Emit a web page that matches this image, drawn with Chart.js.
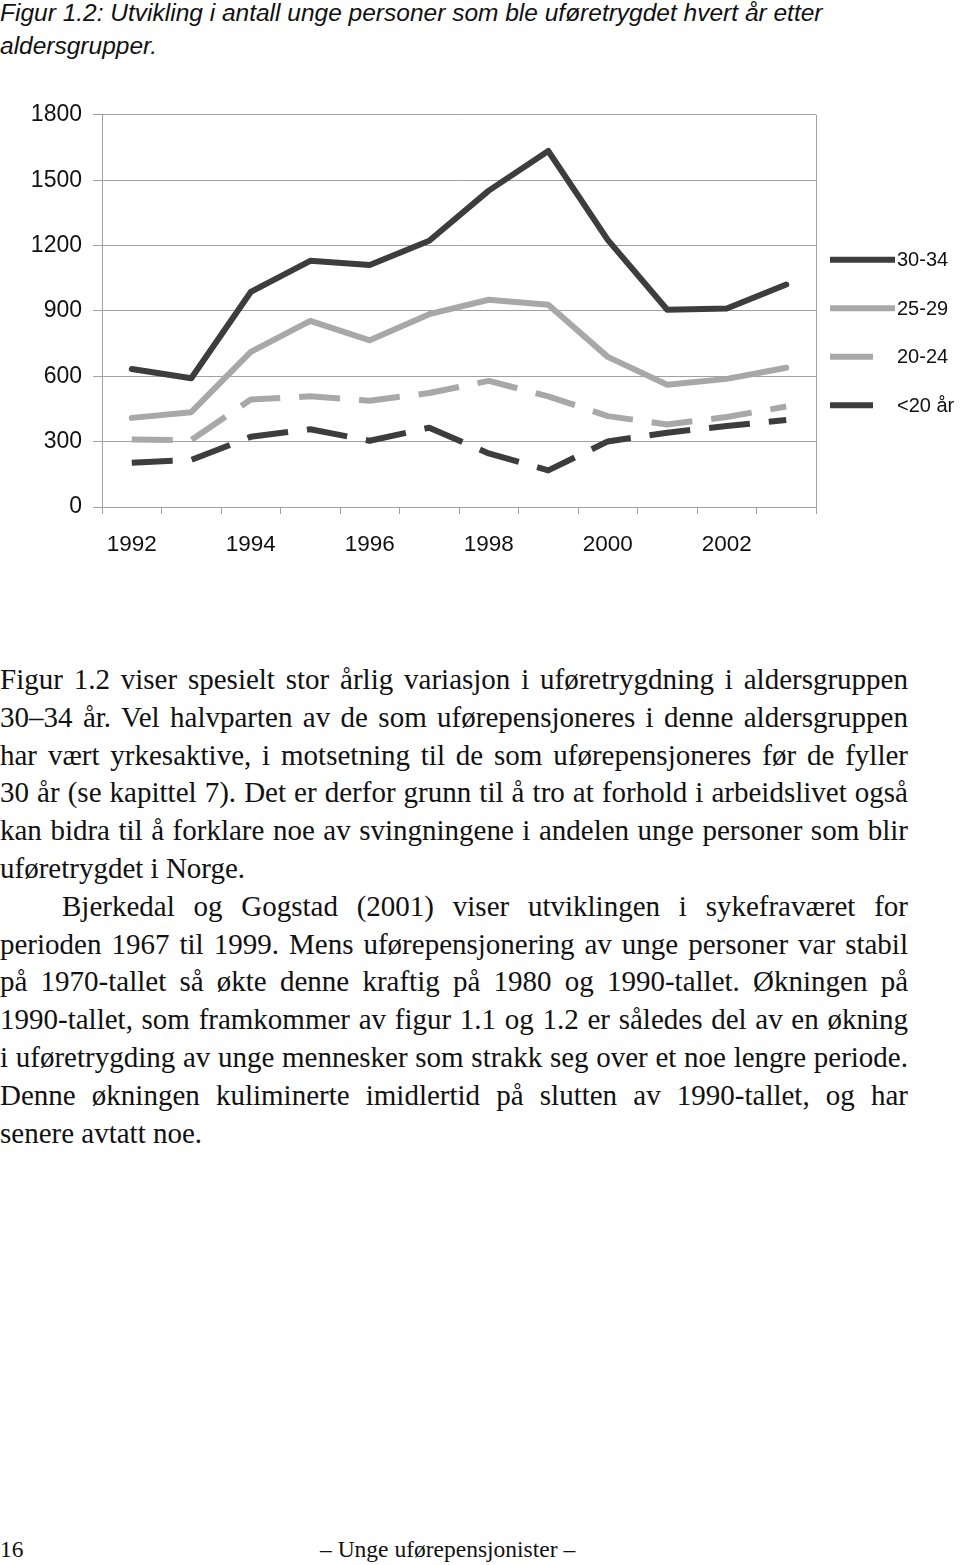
<!DOCTYPE html>
<html>
<head>
<meta charset="utf-8">
<script src="https://cdn.jsdelivr.net/npm/chart.js@4"></script>
<style>
  body { margin: 0; width: 960px; height: 1565px; background: #fff; position: relative; overflow: hidden; }
  #title { position: absolute; left: 0; top: -4px; font-family: "Liberation Sans", Arial, sans-serif; font-style: italic; font-size: 24.5px; line-height: 33px; color: #111; }
  #chartBox { position: absolute; left: 0; top: 90px; width: 960px; height: 490px; }
  #body { position: absolute; left: 0; top: 661px; width: 908px; font-family: "Liberation Serif", "Times New Roman", serif; font-size: 29px; line-height: 37.8px; color: #111; }
  #body .j { text-align: justify; text-align-last: justify; white-space: nowrap; }
  #body .l { text-align: left; }
  #body .ind { padding-left: 62px; }
  #footer { position: absolute; top: 1536px; left: 0; width: 960px; font-family: "Liberation Serif", serif; font-size: 23.5px; color: #111; }
  #footer .pg { position: absolute; left: 0; }
  #footer .run { position: absolute; left: 320px; }
</style>
</head>
<body>
<div id="title">Figur 1.2: Utvikling i antall unge personer som ble uføretrygdet hvert år etter<br>aldersgrupper.</div>
<div id="chartBox"><canvas id="myChart" width="960" height="490"></canvas></div>
<div id="body">
  <div class="j">Figur 1.2 viser spesielt stor årlig variasjon i uføretrygdning i aldersgruppen</div>
  <div class="j">30–34 år. Vel halvparten av de som uførepensjoneres i denne aldersgruppen</div>
  <div class="j">har vært yrkesaktive, i motsetning til de som uførepensjoneres før de fyller</div>
  <div class="j">30 år (se kapittel 7). Det er derfor grunn til å tro at forhold i arbeidslivet også</div>
  <div class="j">kan bidra til å forklare noe av svingningene i andelen unge personer som blir</div>
  <div class="l">uføretrygdet i Norge.</div>
  <div class="j ind">Bjerkedal og Gogstad (2001) viser utviklingen i sykefraværet for</div>
  <div class="j">perioden 1967 til 1999. Mens uførepensjonering av unge personer var stabil</div>
  <div class="j">på 1970-tallet så økte denne kraftig på 1980 og 1990-tallet. Økningen på</div>
  <div class="j">1990-tallet, som framkommer av figur 1.1 og 1.2 er således del av en økning</div>
  <div class="j">i uføretrygding av unge mennesker som strakk seg over et noe lengre periode.</div>
  <div class="j">Denne økningen kuliminerte imidlertid på slutten av 1990-tallet, og har</div>
  <div class="l">senere avtatt noe.</div>
</div>
<div id="footer"><span class="pg">16</span><span class="run">– Unge uførepensjonister –</span></div>

<script>
const years = ["1992", "1993", "1994", "1995", "1996", "1997", "1998", "1999", "2000", "2001", "2002", "2003"];
const age30to34 = [633, 591, 987, 1130, 1111, 1222, 1452, 1634, 1226, 905, 911, 1021];
const age25to29 = [409, 435, 712, 854, 765, 885, 951, 928, 689, 561, 588, 639];
const age20to24 = [310, 307, 493, 508, 488, 523, 579, 508, 417, 379, 413, 461];
const ageUnder20 = [203, 216, 322, 357, 304, 364, 246, 168, 301, 341, 372, 399];
const yTicks = [0, 300, 600, 900, 1200, 1500, 1800];

const dark = "#3d3d3d";
const light = "#a8a8a8";
const gridGray = "#a0a0a0";
const font = "'Liberation Sans', Arial, sans-serif";

// legend on the right, drawn by hand so the solid/dashed samples look like the original
const sideLegend = {
  id: "sideLegend",
  afterDraw(chart) {
    const ctx = chart.ctx;
    const area = chart.chartArea;
    // right border of the plot area
    ctx.save();
    ctx.strokeStyle = gridGray;
    ctx.lineWidth = 1;
    ctx.beginPath();
    ctx.moveTo(area.right + 0.5, area.top);
    ctx.lineTo(area.right + 0.5, area.bottom);
    ctx.stroke();

    const x = area.right + 14;
    let y = area.top + 145;
    chart.data.datasets.forEach((ds) => {
      const dashed = ds.borderDash && ds.borderDash.length > 0;
      ctx.strokeStyle = ds.borderColor;
      ctx.lineWidth = 6;
      ctx.lineCap = "butt";
      ctx.setLineDash([]);
      ctx.beginPath();
      ctx.moveTo(x, y);
      ctx.lineTo(x + (dashed ? 43 : 65), y);
      ctx.stroke();
      ctx.fillStyle = "#111";
      ctx.font = "20px " + font;
      ctx.textBaseline = "middle";
      ctx.fillText(ds.label, x + 67, y + 1);
      y += 48.5;
    });
    ctx.restore();
  },
};

new Chart(document.getElementById("myChart"), {
  type: "line",
  data: {
    labels: years,
    datasets: [
      { label: "30-34", data: age30to34, borderColor: dark, borderDash: [] },
      { label: "25-29", data: age25to29, borderColor: light, borderDash: [] },
      { label: "20-24", data: age20to24, borderColor: light, borderDash: [41, 19], borderCapStyle: "butt" },
      { label: "<20 år", data: ageUnder20, borderColor: dark, borderDash: [41, 19], borderCapStyle: "butt" },
    ].map((d) => Object.assign({
      borderWidth: 6,
      pointRadius: 0,
      tension: 0,
      fill: false,
      borderCapStyle: "round",
      borderJoinStyle: "round",
    }, d)),
  },
  options: {
    responsive: false,
    animation: false,
    layout: { padding: { left: 0, right: 144, top: 20, bottom: 0 } },
    plugins: { legend: { display: false }, tooltip: { enabled: false } },
    scales: {
      x: {
        offset: true,
        grid: { offset: true, drawOnChartArea: false, drawTicks: true, tickLength: 7, color: gridGray },
        border: { color: gridGray },
        ticks: {
          autoSkip: false,
          maxRotation: 0,
          padding: 17,
          color: "#111",
          font: { family: font, size: 22.5 },
          callback: (v, i) => (i % 2 === 0 ? years[i] : ""),
        },
        afterFit: (scale) => { scale.height = 73; },
      },
      y: {
        min: 0,
        max: 1800,
        afterBuildTicks: (scale) => { scale.ticks = yTicks.map((v) => ({ value: v })); },
        grid: { color: gridGray, tickLength: 9 },
        border: { color: gridGray },
        ticks: { padding: 11, color: "#111", font: { family: font, size: 23 }, callback: (v) => String(v) },
        afterFit: (scale) => { scale.width = 102; },
      },
    },
  },
  plugins: [sideLegend],
});
</script>
</body>
</html>
